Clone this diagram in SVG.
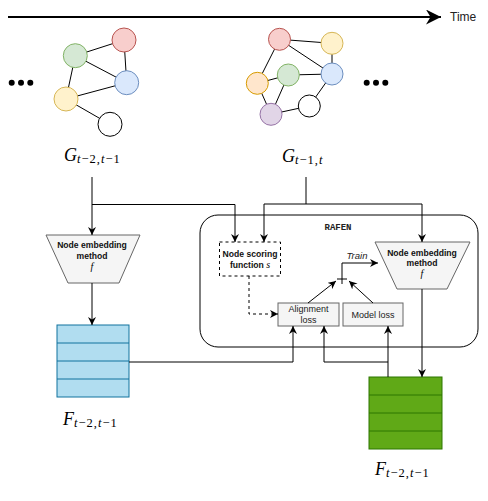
<svg xmlns="http://www.w3.org/2000/svg" width="488" height="501" viewBox="0 0 488 501">
<defs>
<marker id="arr" viewBox="0 0 10 10" refX="10" refY="5" markerWidth="8" markerHeight="8" markerUnits="userSpaceOnUse" orient="auto">
<path d="M0,0 L10,5 L0,10 L3,5 z" fill="#000"/>
</marker>
<marker id="arrBig" viewBox="0 0 10 10" refX="10" refY="5" markerWidth="15" markerHeight="15" markerUnits="userSpaceOnUse" orient="auto">
<path d="M0,0 L10,5 L0,10 L3,5 z" fill="#000"/>
</marker>
</defs>
<style>
.edge{fill:none;stroke:#000;stroke-width:1}
.gedge{stroke:#000;stroke-width:1}
.lbl{font-family:"Liberation Sans",Arial,sans-serif;font-size:8.6px;font-weight:bold;fill:#111;text-anchor:middle}
.lbl2{font-family:"Liberation Sans",Arial,sans-serif;font-size:9px;fill:#222;text-anchor:middle}
.math{font-family:"Liberation Serif","DejaVu Serif",serif;font-style:italic;fill:#000}
.sub{font-size:12.5px;letter-spacing:1px}
.up{font-style:normal}
.trap{fill:#f5f5f5;stroke:#666;stroke-width:1}
.box{fill:#f5f5f5;stroke:#666;stroke-width:1}
.blue{fill:#b1ddf0;stroke:#10739e;stroke-width:1}
.green{fill:#60a917;stroke:#2d7600;stroke-width:1}
</style>
<rect width="488" height="501" fill="#fff"/>

<g id="time-axis">
<line x1="8" y1="17" x2="441" y2="17" stroke="#000" stroke-width="2" marker-end="url(#arrBig)"/>
<text x="450" y="21" font-family="Liberation Sans,Arial,sans-serif" font-size="12" fill="#222">Time</text>
</g>

<g id="graph-left">
<g class="gedge">
<line x1="75.3" y1="55.7" x2="124" y2="40"/>
<line x1="75.3" y1="55.7" x2="126.7" y2="82.7"/>
<line x1="124" y1="40" x2="126.7" y2="82.7"/>
<line x1="75.3" y1="55.7" x2="66" y2="99"/>
<line x1="66" y1="99" x2="126.7" y2="82.7"/>
<line x1="66" y1="99" x2="110" y2="124.3"/>
</g>
<circle cx="75.3" cy="55.7" r="12" fill="#d5e8d4" stroke="#82b366"/>
<circle cx="124" cy="40" r="12" fill="#f8cecc" stroke="#b85450"/>
<circle cx="126.7" cy="82.7" r="12" fill="#dae8fc" stroke="#6c8ebf"/>
<circle cx="66" cy="99" r="12" fill="#fff2cc" stroke="#d6b656"/>
<circle cx="110" cy="124.3" r="12" fill="#fff" stroke="#000"/>
<circle cx="11.7" cy="82.7" r="3" fill="#000"/>
<circle cx="21" cy="82.7" r="3" fill="#000"/>
<circle cx="30.3" cy="82.7" r="3" fill="#000"/>
<text class="math" x="64" y="161" font-size="18">G<tspan class="sub" dy="2">t<tspan class="up">−2,</tspan>t<tspan class="up">−1</tspan></tspan></text>
</g>

<g id="graph-right">
<g class="gedge">
<line x1="279.5" y1="39.3" x2="332" y2="43.3"/>
<line x1="279.5" y1="39.3" x2="332" y2="74"/>
<line x1="332" y1="43.3" x2="332" y2="74"/>
<line x1="279.5" y1="39.3" x2="257.3" y2="83.3"/>
<line x1="257.3" y1="83.3" x2="288.3" y2="75"/>
<line x1="288.3" y1="75" x2="332" y2="74"/>
<line x1="288.3" y1="75" x2="271" y2="114.3"/>
<line x1="257.3" y1="83.3" x2="271" y2="114.3"/>
<line x1="271" y1="114.3" x2="309.3" y2="106"/>
<line x1="309.3" y1="106" x2="332" y2="74"/>
</g>
<circle cx="279.5" cy="39.3" r="11" fill="#f8cecc" stroke="#b85450"/>
<circle cx="332" cy="43.3" r="11" fill="#fff2cc" stroke="#d6b656"/>
<circle cx="288.3" cy="75" r="11" fill="#d5e8d4" stroke="#82b366"/>
<circle cx="332" cy="74" r="11" fill="#dae8fc" stroke="#6c8ebf"/>
<circle cx="257.3" cy="83.3" r="11" fill="#ffe6cc" stroke="#d79b00"/>
<circle cx="271" cy="114.3" r="11" fill="#e1d5e7" stroke="#9673a6"/>
<circle cx="309.3" cy="106" r="11" fill="#fff" stroke="#000"/>
<circle cx="366.7" cy="82.7" r="3" fill="#000"/>
<circle cx="376" cy="82.7" r="3" fill="#000"/>
<circle cx="385.3" cy="82.7" r="3" fill="#000"/>
<text class="math" x="282" y="162" font-size="18">G<tspan class="sub" dy="2">t<tspan class="up">−1,</tspan>t</tspan></text>
</g>

<g id="rafen">
<rect x="200" y="215" width="278" height="132" rx="18" ry="18" fill="none" stroke="#000" stroke-width="1"/>
<text x="338" y="230" font-family="Liberation Mono,Courier New,monospace" font-size="9" font-weight="bold" text-anchor="middle" fill="#222">RAFEN</text>
</g>

<g id="embed-left">
<polygon class="trap" points="46,235 140,235 119,283 68,283"/>
<text class="lbl" x="92" y="248">Node embedding</text>
<text class="lbl" x="92" y="259">method</text>
<text class="math" x="92" y="270" font-size="10" text-anchor="middle">f</text>
</g>

<g id="embed-right">
<polygon class="trap" points="375,242 470,242 447,289 397,289"/>
<text class="lbl" x="422" y="256">Node embedding</text>
<text class="lbl" x="422" y="266">method</text>
<text class="math" x="422" y="277" font-size="10" text-anchor="middle">f</text>
</g>

<g id="scoring">
<rect x="219.5" y="242" width="61" height="34" fill="#fff" stroke="#000" stroke-width="1" stroke-dasharray="3 3"/>
<text class="lbl" x="250" y="257">Node scoring</text>
<text class="lbl" x="250" y="268">function <tspan class="math" font-weight="normal" font-size="10">s</tspan></text>
</g>

<g id="alignment-loss">
<rect class="box" x="278" y="303" width="61" height="23"/>
<text class="lbl2" x="308.5" y="312">Alignment</text>
<text class="lbl2" x="308.5" y="323">loss</text>
</g>

<g id="model-loss">
<rect class="box" x="343" y="303" width="60" height="23"/>
<text class="lbl2" x="373" y="318">Model loss</text>
</g>

<g id="plus">
<path d="M337,279 H347 M342,274 V284" stroke="#000" stroke-width="1" fill="none"/>
<text x="357" y="259" font-family="Liberation Sans,Arial,sans-serif" font-size="9.5" font-style="italic" fill="#222" text-anchor="middle">Train</text>
</g>

<g id="emb-left">
<rect class="blue" x="57" y="325" width="72" height="72"/>
<line class="blue" x1="57" y1="343" x2="129" y2="343"/>
<line class="blue" x1="57" y1="361" x2="129" y2="361"/>
<line class="blue" x1="57" y1="379" x2="129" y2="379"/>
<text class="math" x="63" y="425" font-size="18">F<tspan class="sub" dy="2">t<tspan class="up">−2,</tspan>t<tspan class="up">−1</tspan></tspan></text>
</g>

<g id="emb-right">
<rect class="green" x="369" y="377" width="73" height="72"/>
<line class="green" x1="369" y1="395" x2="442" y2="395"/>
<line class="green" x1="369" y1="413" x2="442" y2="413"/>
<line class="green" x1="369" y1="431" x2="442" y2="431"/>
<text class="math" x="375" y="475" font-size="18">F<tspan class="sub" dy="2">t<tspan class="up">−2,</tspan>t<tspan class="up">−1</tspan></tspan></text>
</g>

<g id="connectors">
<path class="edge" d="M92,177 V235" marker-end="url(#arr)"/>
<path class="edge" d="M92,204.5 H235 V242" marker-end="url(#arr)"/>
<path class="edge" d="M306,177 V204 H264 V242" marker-end="url(#arr)"/>
<path class="edge" d="M306,204 H422 V242" marker-end="url(#arr)"/>
<path class="edge" d="M92,283 V325" marker-end="url(#arr)"/>
<path class="edge" d="M249,276 V314 H278" stroke-dasharray="3 3" marker-end="url(#arr)"/>
<path class="edge" d="M308,303 L336,281" marker-end="url(#arr)"/>
<path class="edge" d="M373,303 L349,281" marker-end="url(#arr)"/>
<path class="edge" d="M342,274 V263 H378" marker-end="url(#arr)"/>
<path class="edge" d="M129,362 H293 V326" marker-end="url(#arr)"/>
<path class="edge" d="M388,377 V326" marker-end="url(#arr)"/>
<path class="edge" d="M388,362 H324 V326" marker-end="url(#arr)"/>
<path class="edge" d="M422,289 V377" marker-end="url(#arr)"/>
</g>
</svg>
